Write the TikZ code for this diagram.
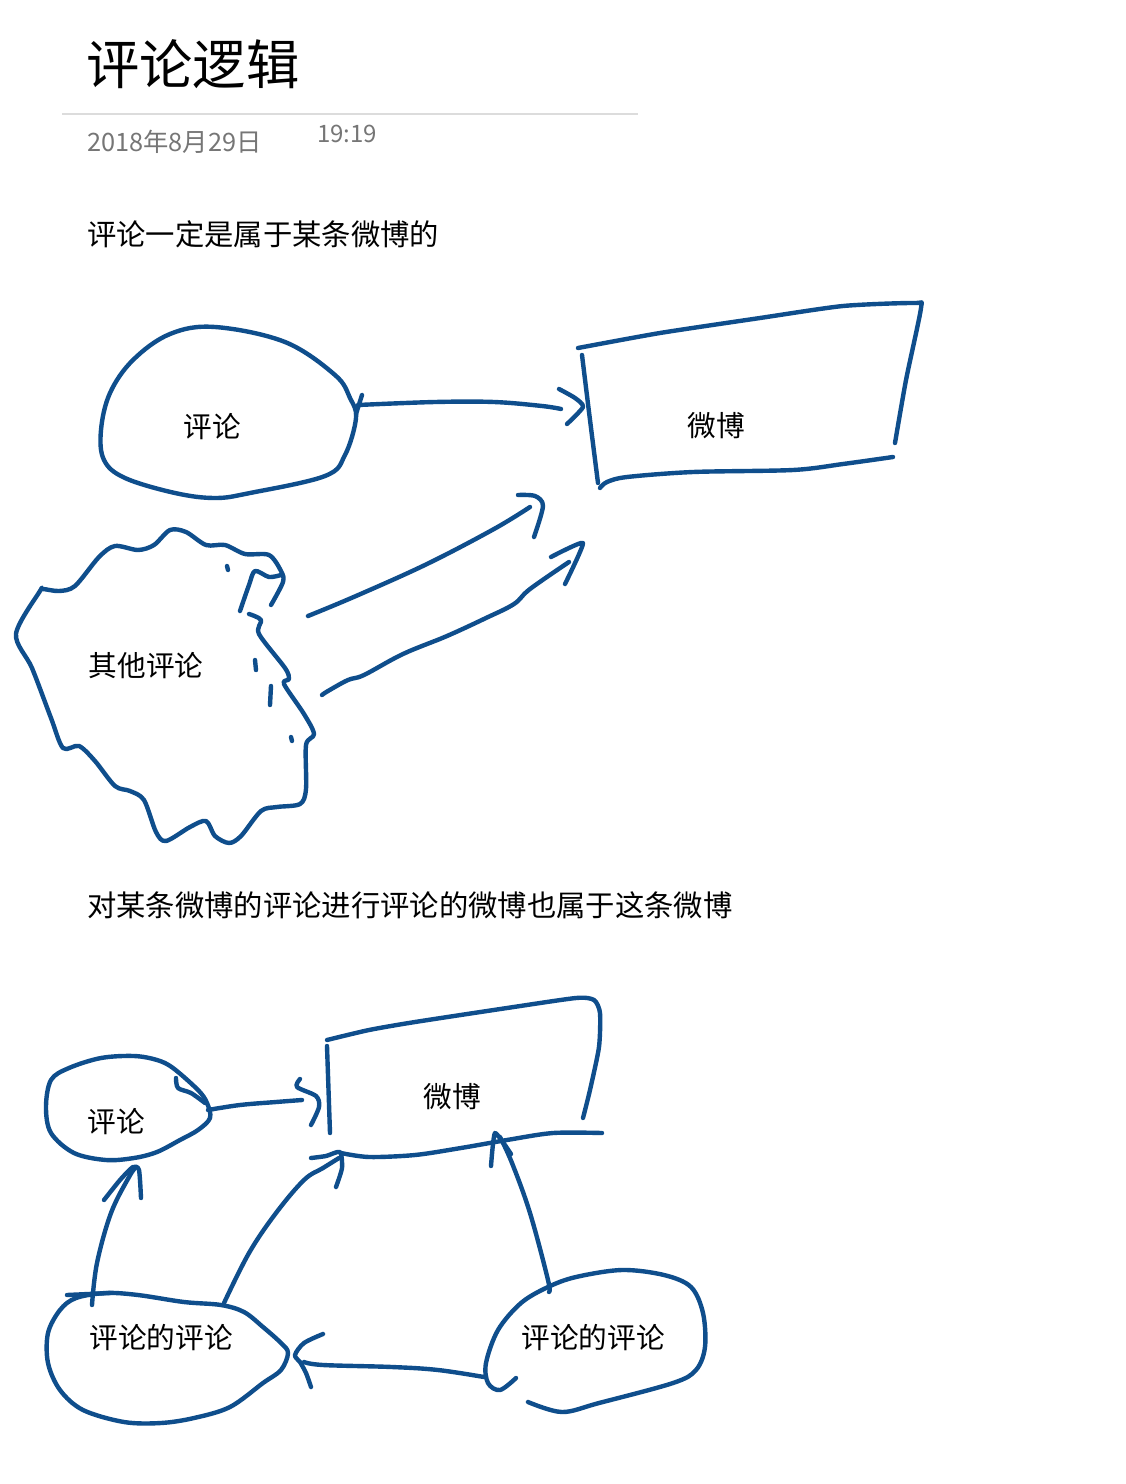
\documentclass[tikz,border=0pt]{standalone}
\usepackage{fontspec}
\setmainfont{Noto Sans CJK SC}
\definecolor{ink}{HTML}{0F4E8C}
\definecolor{datecol}{HTML}{767676}
\definecolor{rulecol}{HTML}{DCDCDC}
\begin{document}
\begin{tikzpicture}[x=0.75pt,y=-0.75pt,
  pen/.style={ink,line width=3.3pt,line cap=round,line join=round},
  lbl/.style={inner sep=0pt,font=\fontsize{21.5}{25}\selectfont},
  body/.style={inner sep=0pt,anchor=west,font=\fontsize{22}{26}\selectfont}]
\fill[white] (0,0) rectangle (1125,1484);
\useasboundingbox (0,0) rectangle (1125,1484);

% header
\node[inner sep=0pt,anchor=west,font=\fontsize{40}{46}\selectfont] (title) at (86,64) {评论逻辑};
\draw[rulecol,line width=1.5pt] (62,114) -- (638,114);
\node[inner sep=0pt,anchor=west,text=datecol,font=\fontsize{19}{22}\selectfont] (date) at (87,142) {2018年8月29日};
\node[inner sep=0pt,anchor=west,text=datecol,font=\fontsize{18}{20}\selectfont] (time) at (317,134) {19:19};
\node[body] (t1) at (87,234) {评论一定是属于某条微博的};
\node[body] (t2) at (87,905) {对某条微博的评论进行评论的微博也属于这条微博};

% ===== top diagram =====
\node[lbl] (pl1) at (212,427) {评论};
\node[lbl] (wb1) at (716,426) {微博};
\node[lbl] (qt) at (146,666) {其他评论};

% ellipse 评论
\draw[pen] plot[smooth cycle,tension=0.6] coordinates {(215,327) (285,342) (335,375) (350,398) (356,418) (345,455) (325,476) (250,493) (215,498) (175,493) (125,478) (104,460) (101,430) (110,393) (133,360) (170,334)};
\draw[pen] (362,395) -- (356,414);
% arrow to 微博
\draw[pen] plot[smooth,tension=0.6] coordinates {(358,405) (435,402) (494,402) (542,406) (561,409)};
\draw[pen] plot[smooth,tension=0.4] coordinates {(559,389) (575,398) (583,407) (567,424)};

% box 微博
\draw[pen] plot[smooth,tension=0.4] coordinates {(578,348) (660,333) (760,318) (843,306) (915,303) (921,308) (906,380) (895,443)};
\draw[pen] plot[smooth,tension=0.5] coordinates {(582,355) (590,420) (598,483)};
\draw[pen] plot[smooth,tension=0.5] coordinates {(893,457) (843,464) (793,470) (693,472) (627,477) (607,482) (600,488)};

% cloud 其他评论
\draw[pen] plot[smooth,tension=0.5] coordinates {(271,605) (283,582) (281,571) (269,555) (245,554) (225,545) (206,545) (186,532) (170,530) (154,545) (138,550) (115,546) (99,557) (75,586) (59,591) (43,589) (40,591) (16,634) (32,668) (51,718) (63,748) (79,746) (95,761) (115,786) (130,791) (144,800) (156,832) (166,841) (190,827) (206,821) (215,836) (229,843) (241,836) (261,811) (277,807) (300,804) (306,789) (306,745) (314,734) (304,714) (284,684) (289,679) (285,668) (259,634) (261,620) (249,614)};
\draw[pen] plot[smooth,tension=0.5] coordinates {(240,611) (249,585) (255,571) (269,577) (281,575)};
\draw[pen] (227,566) -- (228,570);
\draw[pen] (255,660) -- (256,670);
\draw[pen] (271,686) -- (270,705);
\draw[pen] (291,737) -- (292,741);
% arrows from cloud
\draw[pen] plot[smooth,tension=0.6] coordinates {(308,616) (356,596) (427,564) (494,529) (530,507)};
\draw[pen] plot[smooth,tension=0.5] coordinates {(518,495) (535,496) (543,506) (534,537)};
\draw[pen] plot[smooth,tension=0.6] coordinates {(322,695) (328,691) (348,680) (364,675) (403,654) (447,636) (486,618) (514,604) (530,589) (569,562)};
\draw[pen] plot[smooth,tension=0.3] coordinates {(551,557) (583,543) (565,584)};

% ===== bottom diagram =====
\node[lbl] (pl2) at (116,1122) {评论};
\node[lbl] (wb2) at (452,1097) {微博};
\node[lbl] (pp1) at (161,1338) {评论的评论};
\node[lbl] (pp2) at (593,1338) {评论的评论};

% small ellipse 评论
\draw[pen] plot[smooth cycle,tension=0.55] coordinates {(51,1080) (69,1068) (101,1058) (134,1056) (157,1060) (173,1068) (198,1090) (207,1103) (210,1118) (198,1130) (180,1140) (157,1152) (134,1158) (106,1160) (74,1153) (51,1133) (46,1107)};
\draw[pen] plot[smooth,tension=0.5] coordinates {(176,1078) (178,1088) (191,1093) (205,1103)};
% arrow 评论 -> 微博
\draw[pen] plot[smooth,tension=0.6] coordinates {(208,1110) (240,1105) (276,1102) (302,1100)};
\draw[pen] plot[smooth,tension=0.5] coordinates {(300,1079) (297,1087) (316,1096) (319,1107) (311,1125)};

% box 微博
\draw[pen] plot[smooth,tension=0.4] coordinates {(327,1040) (369,1030) (415,1022) (507,1008) (576,998) (594,1000) (600,1013) (599,1047) (590,1090) (583,1118)};
\draw[pen] (327,1046) -- (330,1133);
\draw[pen] plot[smooth,tension=0.5] coordinates {(602,1133) (553,1133) (507,1140) (461,1148) (415,1155) (369,1157) (341,1153)};

% left 评论的评论 ellipse
\draw[pen] plot[smooth cycle,tension=0.55] coordinates {(106,1293) (138,1295) (184,1302) (221,1305) (244,1312) (263,1327) (281,1343) (288,1353) (281,1370) (263,1383) (230,1407) (194,1418) (161,1423) (124,1422) (83,1410) (60,1390) (48,1363) (48,1333) (60,1310) (76,1298)};
\draw[pen] (67,1295) -- (110,1293);
% arrow up to 评论
\draw[pen] plot[smooth,tension=0.6] coordinates {(92,1305) (97,1263) (111,1213) (129,1177) (136,1167)};
\draw[pen] plot[smooth,tension=0.4] coordinates {(104,1200) (120,1180) (133,1167) (139,1170) (141,1198)};
% arrow to 微博 bottom-left
\draw[pen] plot[smooth,tension=0.6] coordinates {(224,1303) (249,1253) (276,1213) (304,1180) (323,1168) (339,1158)};
\draw[pen] plot[smooth,tension=0.4] coordinates {(311,1158) (326,1156) (340,1152) (342,1168) (336,1187)};

% right 评论的评论 ellipse
\draw[pen] plot[smooth,tension=0.55] coordinates {(516,1378) (500,1390) (488,1383) (486,1363) (498,1330) (521,1303) (548,1287) (576,1277) (622,1270) (664,1275) (691,1287) (703,1313) (705,1347) (696,1370) (673,1383) (599,1403) (562,1412) (528,1402)};
% arrow up to 微博
\draw[pen] plot[smooth,tension=0.6] coordinates {(549,1292) (548,1280) (530,1213) (512,1163) (500,1137)};
\draw[pen] plot[smooth,tension=0.3] coordinates {(491,1166) (495,1133) (511,1154)};
% arrow right -> left
\draw[pen] plot[smooth,tension=0.6] coordinates {(484,1377) (438,1370) (392,1367) (323,1365) (304,1362)};
\draw[pen] plot[smooth,tension=0.5] coordinates {(323,1334) (304,1343) (295,1355) (300,1362) (306,1373) (311,1387)};
\end{tikzpicture}
\end{document}
